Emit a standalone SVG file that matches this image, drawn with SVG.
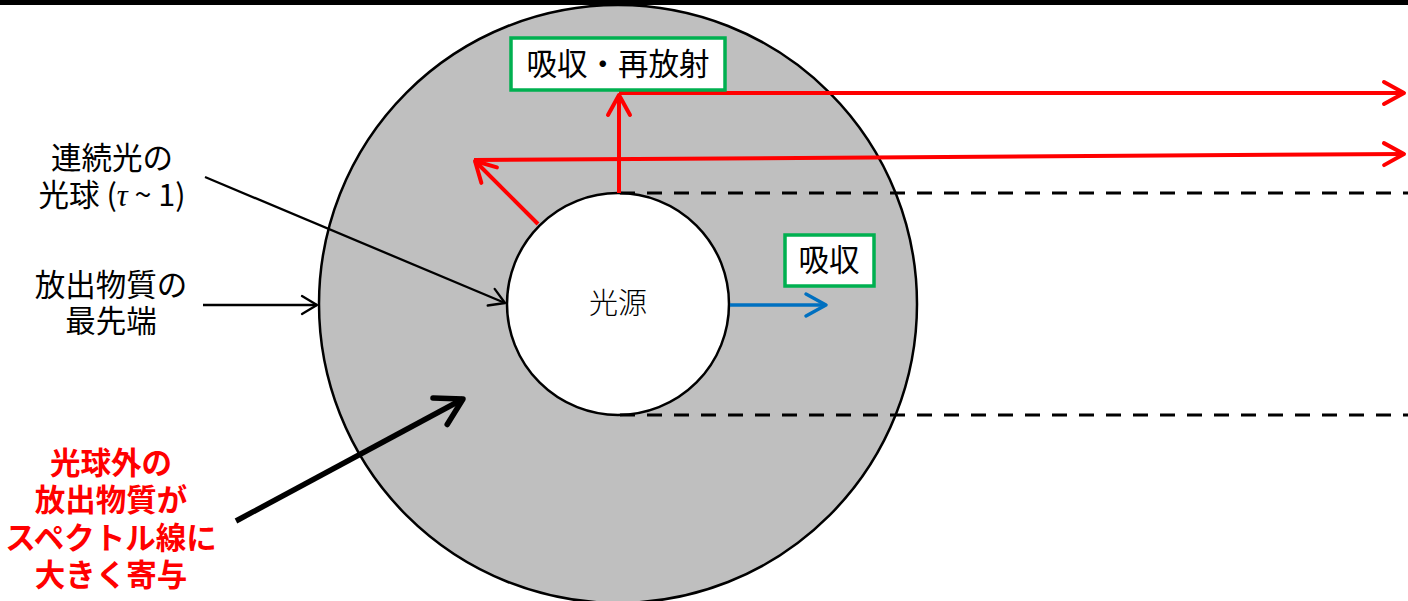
<svg xmlns="http://www.w3.org/2000/svg" width="1408" height="601" viewBox="0 0 1408 601">
<style>
.t{font-family:"Noto Sans CJK JP","Liberation Sans",sans-serif;font-size:30.5px;fill:#000;text-anchor:middle}
.r{font-family:"Noto Sans CJK JP","Liberation Sans",sans-serif;font-size:30.5px;font-weight:bold;fill:#ff0000;text-anchor:middle}
.red{stroke:#ff0000;stroke-width:4;fill:none}
.box{fill:#fff;stroke:#00b050;stroke-width:3.5}
.dash{stroke:#000;stroke-width:3.2;stroke-dasharray:15 12;fill:none}
</style>
<defs>
<marker id="ar" markerUnits="userSpaceOnUse" viewBox="-2 -2 24 26" markerWidth="24" markerHeight="26" refX="20" refY="11" orient="auto" overflow="visible"><path d="M0,0 L20,11 L0,22" fill="none" stroke="#ff0000" stroke-width="4" stroke-linecap="round" stroke-linejoin="round"/></marker>
<marker id="ab" markerUnits="userSpaceOnUse" viewBox="-2 -2 24 26" markerWidth="24" markerHeight="26" refX="20" refY="11" orient="auto" overflow="visible"><path d="M0,0 L20,11 L0,22" fill="none" stroke="#0070c0" stroke-width="3.5" stroke-linecap="round" stroke-linejoin="round"/></marker>
<marker id="ak" markerUnits="userSpaceOnUse" viewBox="-2 -2 18 22" markerWidth="18" markerHeight="22" refX="15" refY="9" orient="auto" overflow="visible"><path d="M0,0 L15,9 L0,18" fill="none" stroke="#000" stroke-width="2.3" stroke-linecap="round" stroke-linejoin="round"/></marker>
<marker id="akk" markerUnits="userSpaceOnUse" viewBox="-3 -3 32 36" markerWidth="32" markerHeight="36" refX="26" refY="15" orient="auto" overflow="visible"><path d="M0,0 L26,15 L0,30" fill="none" stroke="#000" stroke-width="5.5" stroke-linecap="round" stroke-linejoin="round"/></marker>
</defs>
<rect x="0" y="0" width="1408" height="5" fill="#000"/>
<g id="ejecta"><circle cx="618" cy="304" r="299" fill="#bfbfbf" stroke="#000" stroke-width="2.5"/></g>
<g id="source"><circle cx="618" cy="304" r="111" fill="#fff" stroke="#000" stroke-width="2.5"/><text class="t" x="618" y="314" style="font-size:29px;font-weight:300">光源</text></g>
<g id="connectors">
<line class="dash" x1="620" y1="193" x2="1408" y2="193"/>
<line class="dash" x1="620" y1="415" x2="1408" y2="415"/>
<line class="red" x1="619" y1="193" x2="619" y2="95" marker-end="url(#ar)"/>
<line class="red" x1="619" y1="93" x2="1404" y2="93" marker-end="url(#ar)"/>
<line class="red" x1="538" y1="224" x2="475" y2="161" marker-end="url(#ar)"/>
<line class="red" x1="474" y1="160" x2="1404" y2="154" marker-end="url(#ar)"/>
<line x1="730" y1="305" x2="826" y2="305" stroke="#0070c0" stroke-width="3.5" marker-end="url(#ab)"/>
<line x1="205" y1="177" x2="505" y2="303" stroke="#000" stroke-width="2.3" marker-end="url(#ak)"/>
<line x1="203" y1="305" x2="317" y2="305" stroke="#000" stroke-width="2.3" marker-end="url(#ak)"/>
<line x1="236" y1="521" x2="463" y2="399" stroke="#000" stroke-width="5.5" marker-end="url(#akk)"/>
</g>
<g id="label-reemit"><rect class="box" x="511" y="38" width="214" height="52"/><text class="t" x="618" y="75">吸収・再放射</text></g>
<g id="label-absorb"><rect class="box" x="785" y="235" width="89" height="51"/><text class="t" x="829" y="271">吸収</text></g>
<g id="label-photosphere"><text class="t" x="112" y="169">連続光の</text><text class="t" x="112" y="206">光球 (<tspan font-family="Liberation Serif" font-style="italic">τ</tspan> ~ 1)</text></g>
<g id="label-front"><text class="t" x="111" y="296">放出物質の</text><text class="t" x="111" y="332">最先端</text></g>
<g id="label-note"><text class="r" x="111" y="474">光球外の</text><text class="r" x="111" y="511">放出物質が</text><text class="r" x="111" y="549">スペクトル線に</text><text class="r" x="111" y="586">大きく寄与</text></g>
</svg>
